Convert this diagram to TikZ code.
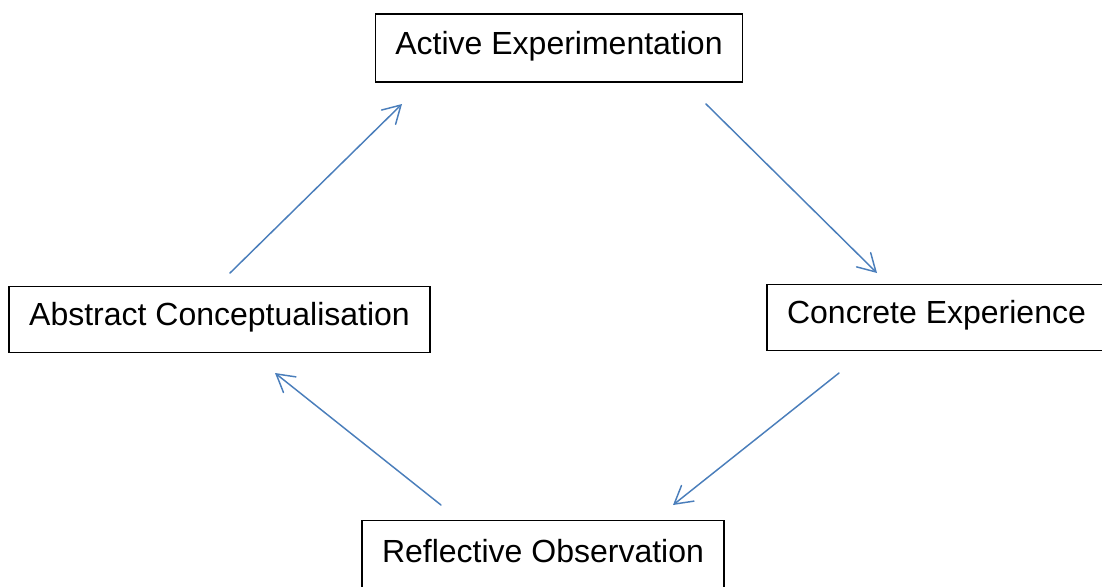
\documentclass[tikz,border=0pt]{standalone}
\usepackage{fontspec}
\setmainfont{Liberation Sans}
\usetikzlibrary{arrows.meta}
\definecolor{arrblue}{HTML}{4A7EBB}
\begin{document}
\begin{tikzpicture}[x=0.75pt,y=-0.75pt,
  box/.style={draw=black, line width=0.9pt, inner sep=0pt, text height=17.25pt, text depth=7.5pt,
    font=\fontsize{24}{28}\selectfont},
  arr/.style={draw=arrblue, line width=1.1pt, line cap=round,
    -{Straight Barb[length=13pt,width=15pt,line cap=round]}}]
\useasboundingbox (0,0) rectangle (1102,586);
\node[box, minimum width=367.4*0.75pt, minimum height=68*0.75pt] (ae) at (559,48) {Active Experimentation};
\node[box, minimum width=421*0.75pt, minimum height=66*0.75pt] (ac) at (219.5,319.2) {Abstract Conceptualisation};
\node[box, minimum width=339*0.75pt, minimum height=66*0.75pt] (ce) at (936.5,317.2) {Concrete Experience};
\node[box, minimum width=362*0.75pt, minimum height=70*0.75pt] (ro) at (543,555.5) {Reflective Observation};
\coordinate (a1) at (230,273);
\coordinate (a2) at (402,104);
\coordinate (b1) at (706,104);
\coordinate (b2) at (877,273);
\coordinate (c1) at (839,373);
\coordinate (c2) at (673,505);
\coordinate (d1) at (441,505);
\coordinate (d2) at (275,373);
\draw[arr] (a1) -- (a2);
\draw[arr] (b1) -- (b2);
\draw[arr] (c1) -- (c2);
\draw[arr] (d1) -- (d2);
\end{tikzpicture}
\end{document}
